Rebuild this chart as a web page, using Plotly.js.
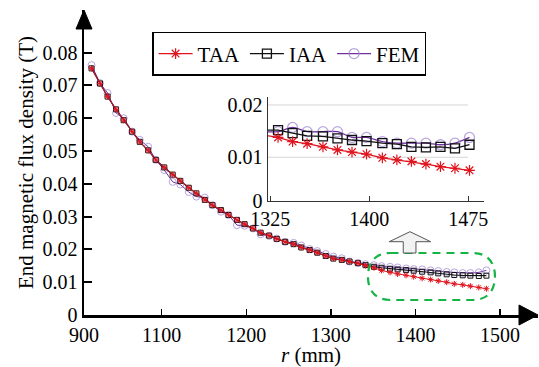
<!DOCTYPE html>
<html>
<head>
<meta charset="utf-8">
<script src="https://cdn.plot.ly/plotly-3.0.1.min.js"></script>
<style>html,body{margin:0;padding:0;background:#fff;}#chart{width:539px;height:367px;}</style>
</head>
<body>
<div id="chart"></div>
<script>
// ---- main chart data (r in mm, B in T) ----
const rMain = [1017,1027,1036,1046,1055,1065,1074,1084,1093,1103,
               1113,1122,1132,1141,1151,1160,1170,1179,1189,1198,
               1208,1217,1227,1236,1246,1256,1265,1275,1284,1294,
               1303,1313,1322,1332,1341,1351,1360,1370,1379,1389,
               1398,1408,1418,1427,1437,1446,1456,1465,1475,1484];
const iaaMain = [0.0752,0.0706,0.0666,0.0627,0.0594,0.0559,0.0528,0.0502,0.0473,0.0450,
                 0.0428,0.0409,0.0388,0.0371,0.0351,0.0335,0.0320,0.0305,0.0290,0.0277,
                 0.0264,0.0251,0.0242,0.0232,0.0223,0.0216,0.0206,0.0198,0.0190,0.0180,
                 0.0172,0.0168,0.0163,0.0158,0.0152,0.0147,0.0144,0.0141,0.0139,0.0137,
                 0.0135,0.0132,0.0130,0.0127,0.0124,0.0122,0.0121,0.0120,0.0119,0.0120];
const taaMain = [0.0752,0.0706,0.0666,0.0627,0.0594,0.0559,0.0528,0.0502,0.0473,0.0450,
                 0.0428,0.0409,0.0388,0.0371,0.0351,0.0335,0.0320,0.0305,0.0290,0.0277,
                 0.0264,0.0251,0.0242,0.0232,0.0223,0.0216,0.0206,0.0198,0.0190,0.0180,
                 0.0172,0.0168,0.0163,0.0158,0.0151,0.0144,0.0136,0.0130,0.0125,0.0121,
                 0.0117,0.0112,0.0108,0.0104,0.0100,0.0095,0.0092,0.0088,0.0084,0.0080];
const femMain = [0.0762,0.0707,0.0677,0.0616,0.0600,0.0559,0.0534,0.0513,0.0473,0.0442,
                 0.0406,0.0398,0.0375,0.0361,0.0358,0.0335,0.0315,0.0305,0.0274,0.0272,
                 0.0264,0.0246,0.0241,0.0233,0.0223,0.0220,0.0212,0.0201,0.0195,0.0186,
                 0.0178,0.0173,0.0163,0.0159,0.0155,0.0152,0.0149,0.0147,0.0145,0.0142,
                 0.0140,0.0139,0.0136,0.0134,0.0131,0.0130,0.0128,0.0128,0.0130,0.0136];

// ---- inset (zoomed) data ----
const rInset   = [1319,1331,1342,1353,1365,1376,1387,1398,1410,1421,1432,1443,1454,1465,1476];
const taaInset = [0.0143,0.0138,0.0130,0.0126,0.0120,0.0114,0.0110,0.0106,0.0099,0.0095,0.0092,0.0087,0.0082,0.0079,0.0075];
const iaaInset = [0.0152,0.0152,0.0146,0.0141,0.0140,0.0136,0.0133,0.0131,0.0127,0.0125,0.0120,0.0119,0.0120,0.0117,0.0124];
const femInset = [0.0149,0.0149,0.0157,0.0149,0.0149,0.0149,0.0138,0.0138,0.0130,0.0127,0.0127,0.0127,0.0124,0.0127,0.0138];

// ---- tick labels ----
const xTickVals = [1008.1,1100,1200,1300,1400,1500];
const xTickText = ['900','1100','1200','1300','1400','1500'];
const yTickVals = [0,0.01,0.02,0.03,0.04,0.05,0.06,0.07,0.08];
const yTickText = ['0','0.01','0.02','0.03','0.04','0.05','0.06','0.07','0.08'];
const insetXTickVals = [1325,1400,1475];
const insetXTickText = ['1325','1400','1475'];
const insetYTickVals = [0.0017,0.01,0.02];
const insetYTickText = ['0','0.01','0.02'];
const seriesNames = ['TAA','IAA','FEM'];

const RED = 'rgb(225,20,30)';
const BLACK = '#111';
const PURPLE = 'rgb(112,48,160)';
const LPURPLE = 'rgba(160,135,210,0.75)';
const FONT = 'Liberation Serif';

const traces = [
  // main
  {x:rMain, y:femMain, name:seriesNames[2], mode:'lines+markers', showlegend:false,
   line:{color:PURPLE, width:1}, marker:{symbol:'circle-open', size:7, color:LPURPLE, line:{width:1}}},
  {x:rMain, y:iaaMain, name:seriesNames[1], mode:'lines+markers', showlegend:false,
   line:{color:BLACK, width:1.2}, marker:{symbol:'square-open', size:5, color:BLACK, line:{width:1}}},
  {x:rMain, y:taaMain, name:seriesNames[0], mode:'lines+markers', showlegend:false,
   line:{color:RED, width:1}, marker:{symbol:'asterisk-open', size:5, color:RED, line:{width:1, color:RED}}},
  // inset
  {x:rInset, y:femInset, name:seriesNames[2], xaxis:'x2', yaxis:'y2', mode:'lines+markers', legendrank:3,
   line:{color:PURPLE, width:1.3, shape:'spline', smoothing:0.8}, marker:{symbol:'circle-open', size:10, color:LPURPLE, line:{width:1.3}}},
  {x:rInset, y:iaaInset, name:seriesNames[1], xaxis:'x2', yaxis:'y2', mode:'lines+markers', legendrank:2,
   line:{color:BLACK, width:1.3}, marker:{symbol:'square-open', size:9, color:BLACK, line:{width:1.3}}},
  {x:rInset, y:taaInset, name:seriesNames[0], xaxis:'x2', yaxis:'y2', mode:'lines+markers', legendrank:1,
   line:{color:RED, width:1.3}, marker:{symbol:'asterisk-open', size:9, color:RED, line:{width:1.2, color:RED}}}
];

const layout = {
  width:539, height:367,
  margin:{l:84, r:1, t:10, b:52},
  paper_bgcolor:'#fff', plot_bgcolor:'rgba(0,0,0,0)',
  font:{family:FONT, size:20, color:'#000'},
  showlegend:true,
  legend:{orientation:'h', x:0.15, y:0.928, xanchor:'left', yanchor:'top',
          bordercolor:'#000', borderwidth:1.5, bgcolor:'#fff',
          font:{family:FONT, size:21, color:'#000'}, itemwidth:34, traceorder:'normal'},
  xaxis:{range:[1008.1,1545], tickvals:xTickVals, ticktext:xTickText,
         ticks:'inside', ticklen:6, tickwidth:1.5, tickcolor:'#000',
         showline:true, linecolor:'#000', linewidth:2.5, showgrid:false, zeroline:false,
         tickfont:{family:FONT, size:20}, title:{text:'<i>r</i> (mm)', font:{family:FONT, size:21}, standoff:2}},
  yaxis:{range:[0,0.093], tickvals:yTickVals, ticktext:yTickText,
         ticks:'inside', ticklen:8, tickwidth:2, tickcolor:'#000',
         showline:true, linecolor:'#000', linewidth:2.5, showgrid:false, zeroline:false,
         tickfont:{family:FONT, size:20}, title:{text:'End magnetic flux density (T)', font:{family:FONT, size:21}, standoff:3}},
  xaxis2:{domain:[0.4042,0.8811], anchor:'y2', range:[1323,1487],
          tickvals:insetXTickVals, ticktext:insetXTickText,
          ticks:'inside', ticklen:5, tickwidth:1, tickcolor:'#333',
          showline:true, linecolor:'#333', linewidth:1, showgrid:false, zeroline:false,
          tickfont:{family:FONT, size:20}},
  yaxis2:{domain:[0.3748,0.7138], anchor:'x2', range:[0.0017,0.02147],
          tickvals:insetYTickVals, ticktext:insetYTickText, ticks:'',
          showline:true, linecolor:'#333', linewidth:1, showgrid:false, zeroline:false,
          tickfont:{family:FONT, size:20}},
  shapes:[
    // inset gridlines
    {type:'line', xref:'x2', yref:'y2', x0:1323, x1:1475, y0:0.01, y1:0.01, line:{color:'#d6d6d6', width:1}, layer:'below'},
    {type:'line', xref:'x2', yref:'y2', x0:1323, x1:1475, y0:0.02, y1:0.02, line:{color:'#d6d6d6', width:1}, layer:'below'},
    // x-axis arrowhead
    {type:'path', xref:'paper', yref:'paper', xsizemode:'pixel', ysizemode:'pixel', xanchor:1, yanchor:0,
     path:'M -19,-10 L 0,0 L -19,10 Z', fillcolor:'#000', line:{color:'#000', width:1}},
    // y-axis arrowhead
    {type:'path', xref:'paper', yref:'paper', xsizemode:'pixel', ysizemode:'pixel', xanchor:0, yanchor:1,
     path:'M -8,-19 L 0,0 L 8,-19 Z', fillcolor:'#000', line:{color:'#000', width:1}},
    // green dashed rounded frame around zoomed region
    {type:'path', xref:'x', yref:'y', xsizemode:'pixel', ysizemode:'pixel', xanchor:1419, yanchor:0.01174,
     path:'M -41,23.5 L 41,23.5 C 58,23.5 63.5,12 63.5,0 C 63.5,-12 58,-23.5 41,-23.5 L -41,-23.5 C -58,-23.5 -63.5,-12 -63.5,0 C -63.5,12 -58,23.5 -41,23.5 Z',
     line:{color:'rgb(20,180,70)', width:2.2, dash:'8px,6px'}},
    // grey block arrow pointing up to the inset
    {type:'path', xref:'x', yref:'y', xsizemode:'pixel', ysizemode:'pixel', xanchor:1419, yanchor:0.01174,
     path:'M -28.2,23.5 L -28.2,34.8 L -42.2,34.8 L -21.5,44.8 L -0.8,34.8 L -15.5,34.8 L -15.5,23.5 Z',
     fillcolor:'#f2f2f2', line:{color:'#555', width:1}}
  ]
};

Plotly.newPlot('chart', traces, layout, {displayModeBar:false, staticPlot:true});
</script>
</body>
</html>
